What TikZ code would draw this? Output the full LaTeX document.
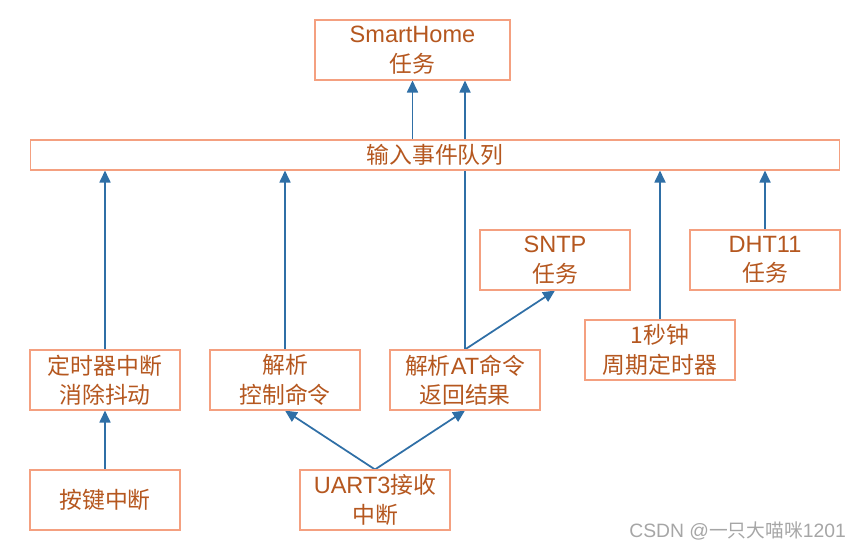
\documentclass[tikz,border=0pt]{standalone}
\usepackage{fontspec}
\setmainfont{Liberation Sans}
\newfontfamily\cjk[Scale=0.97]{Noto Sans CJK SC}
\usetikzlibrary{arrows.meta}
\pgfdeclarelayer{bg}
\pgfsetlayers{bg,main}
\definecolor{bordc}{HTML}{F4A080}
\definecolor{txtc}{HTML}{B5571F}
\definecolor{arrc}{HTML}{2F6FA6}
\tikzset{
  box/.style={draw=bordc, line width=0.6pt, fill=white, text=txtc, align=center,
    minimum width=3cm, minimum height=1.2cm, inner sep=0pt,
    font=\fontsize{13.4}{16.8}\selectfont},
  conn/.style={draw=arrc, line width=1pt, -{Triangle[length=0.24cm,width=0.22cm]}}
}
\begin{document}
\begin{tikzpicture}[x=0.02cm,y=-0.02cm]
\useasboundingbox (0,0) rectangle (866,551);
\node[box, minimum width=3.9cm] (home) at (412.5,50) {SmartHome\\{\cjk 任务}};
\node[box, minimum width=16.2cm, minimum height=0.6cm] (queue) at (435,155) {\cjk 输入事件队列};
\node[box] (sntp) at (555,260) {SNTP\\{\cjk 任务}};
\node[box] (dht) at (765,260) {DHT11\\{\cjk 任务}};
\node[box] (sec) at (660,350) {{\cjk 1秒钟}\\{\cjk 周期定时器}};
\node[box] (timer) at (105,380) {{\cjk 定时器中断}\\{\cjk 消除抖动}};
\node[box] (ctrl) at (285,380) {{\cjk 解析}\\{\cjk 控制命令}};
\node[box] (at) at (465,380) {{\cjk 解析}AT{\cjk 命令}\\{\cjk 返回结果}};
\node[box] (key) at (105,500) {\cjk 按键中断};
\node[box] (uart) at (375,500) {UART3{\cjk 接收}\\{\cjk 中断}};
\node[text=gray!70, font=\fontsize{11}{13}\selectfont, anchor=east] (wm) at (852,531) {CSDN @{\cjk 一只大喵咪}1201};
\begin{pgfonlayer}{bg}
\draw[conn] (home.south |- queue.north) -- (home.south);
\draw[conn] (at.north) -- (at.north |- home.south);
\draw[conn] (timer.north) -- (timer.north |- queue.south);
\draw[conn] (ctrl.north) -- (ctrl.north |- queue.south);
\draw[conn] (sec.north) -- (sec.north |- queue.south);
\draw[conn] (dht.north) -- (dht.north |- queue.south);
\draw[conn] (at.north) -- (sntp.south);
\draw[conn] (key.north) -- (timer.south);
\draw[conn] (uart.north) -- (ctrl.south);
\draw[conn] (uart.north) -- (at.south);
\end{pgfonlayer}
\end{tikzpicture}
\end{document}
